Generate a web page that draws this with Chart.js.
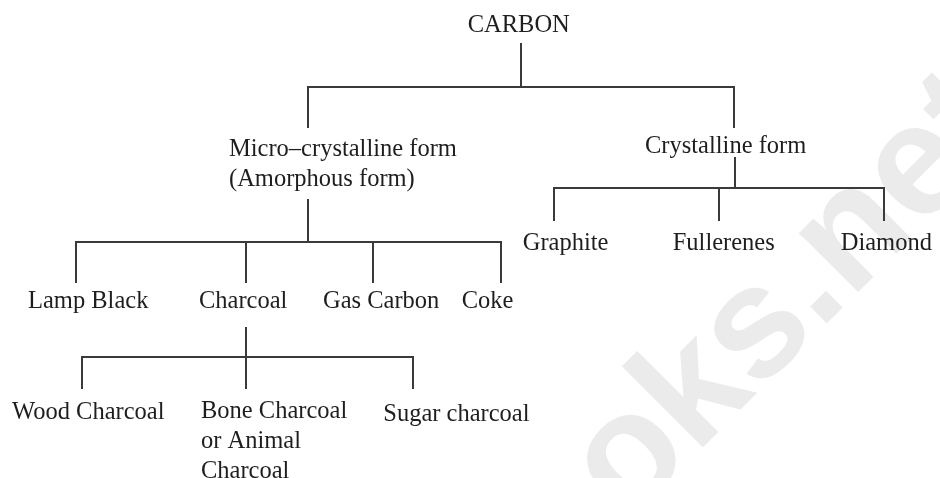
<!DOCTYPE html>
<html>
<head>
<meta charset="utf-8">
<script src="https://cdn.jsdelivr.net/npm/chart.js@4.4.1/dist/chart.umd.min.js"></script>
<style>
    html, body { margin: 0; padding: 0; background: #fff; }
    #wrap { width: 940px; height: 478px; }
</style>
</head>
<body>
<div id="wrap"><canvas id="tree"></canvas></div>
<script>
// Libellés de l'arbre
const rootLabel = ['CARBON'];
const formLabels = [['Micro–crystalline form', '(Amorphous form)'], ['Crystalline form']];
const amorphousKinds = ['Lamp Black', 'Charcoal', 'Gas Carbon', 'Coke'];
const crystallineKinds = ['Graphite', 'Fullerenes', 'Diamond'];
const charcoalKinds = [['Wood Charcoal'], ['Bone Charcoal', 'or Animal', 'Charcoal'], ['Sugar charcoal']];
const watermarkText = 'books.net';

// Mise en page (coordonnées dans l'espace des axes, 0..940 / 0..478)
const layout = {
    root: { xs: [467.7], ys: [32] },
    forms: { xs: [229, 645], ys: [156, 152.5] },
    amorphous: { xs: [28, 199, 323, 461.7], ys: [307.5, 307.5, 307.5, 307.5] },
    crystalline: { xs: [522.7, 672.7, 840.7], ys: [249.5, 249.5, 249.5] },
    charcoal: { xs: [12, 201, 383.3], ys: [418.5, 418, 421] }
};
const lineGap = 30;

// Accolades : tige du parent, barre horizontale, descentes vers les enfants
const brackets = [
    { stemX: 521, stemTop: 43, bar: 87, drops: [308, 734], bottom: 128 },
    { stemX: 308, stemTop: 199, bar: 242, drops: [76, 246, 373, 501], bottom: 283 },
    { stemX: 735, stemTop: 157, bar: 188, drops: [554, 719, 884], bottom: 221 },
    { stemX: 246, stemTop: 327, bar: 357, drops: [82, 246, 413], bottom: 389 }
];

const lineColor = '#3a3a3a';
const textColor = '#1e1e1e';

function segment(points) {
    return {
        data: points,
        showLine: true,
        borderColor: lineColor,
        borderWidth: 2,
        pointRadius: 0,
        fill: false,
        tension: 0,
        borderCapStyle: 'butt',
        borderJoinStyle: 'miter'
    };
}

const datasets = [];
brackets.forEach(b => {
    const first = b.drops[0];
    const last = b.drops[b.drops.length - 1];
    datasets.push(segment([
        { x: first, y: b.bottom }, { x: first, y: b.bar },
        { x: last, y: b.bar }, { x: last, y: b.bottom }
    ]));
    datasets.push(segment([{ x: b.stemX, y: b.stemTop }, { x: b.stemX, y: b.bar }]));
    b.drops.slice(1, -1).forEach(d => {
        datasets.push(segment([{ x: d, y: b.bar }, { x: d, y: b.bottom }]));
    });
});

// Filigrane gris clair en diagonale
const watermarkPlugin = {
    id: 'watermark',
    beforeDatasetsDraw(chart) {
        const { ctx, scales } = chart;
        const px = scales.x.getPixelForValue(695);
        const py = scales.y.getPixelForValue(455);
        ctx.save();
        ctx.translate(px, py);
        ctx.rotate(-Math.PI / 4);
        ctx.font = 'bold 158px "Liberation Sans", Arial, sans-serif';
        ctx.fillStyle = '#ebebeb';
        ctx.textBaseline = 'alphabetic';
        ctx.textAlign = 'left';
        const w = ctx.measureText('boo').width;
        ctx.fillText(watermarkText, -w, 0);
        ctx.restore();
    }
};

// Étiquettes des noeuds
const labelPlugin = {
    id: 'nodeLabels',
    afterDatasetsDraw(chart) {
        const { ctx, scales } = chart;
        ctx.save();
        ctx.font = '24.5px "Liberation Serif", "Times New Roman", serif';
        ctx.fillStyle = textColor;
        ctx.textAlign = 'left';
        ctx.textBaseline = 'alphabetic';

        function drawGroup(labels, pos) {
            labels.forEach((label, i) => {
                const lines = Array.isArray(label) ? label : [label];
                lines.forEach((line, j) => {
                    const x = scales.x.getPixelForValue(pos.xs[i]);
                    const y = scales.y.getPixelForValue(pos.ys[i] + j * lineGap);
                    ctx.fillText(line, x, y);
                });
            });
        }

        drawGroup(rootLabel, layout.root);
        drawGroup(formLabels, layout.forms);
        drawGroup(amorphousKinds, layout.amorphous);
        drawGroup(crystallineKinds, layout.crystalline);
        drawGroup(charcoalKinds, layout.charcoal);
        ctx.restore();
    }
};

new Chart(document.getElementById('tree'), {
    type: 'scatter',
    data: { datasets },
    options: {
        responsive: true,
        maintainAspectRatio: false,
        animation: false,
        events: [],
        layout: { padding: 0 },
        scales: {
            x: { type: 'linear', min: 0, max: 940, display: false },
            y: { type: 'linear', min: 0, max: 478, reverse: true, display: false }
        },
        plugins: {
            legend: { display: false },
            tooltip: { enabled: false }
        }
    },
    plugins: [watermarkPlugin, labelPlugin]
});
</script>
</body>
</html>
